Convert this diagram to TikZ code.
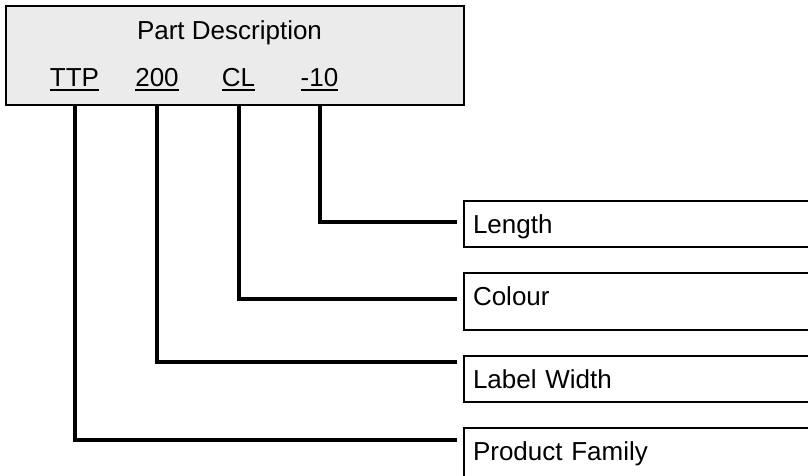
\documentclass[tikz,border=0pt]{standalone}
\usepackage{fontspec}
\setmainfont{Liberation Sans}
\usetikzlibrary{positioning}
\definecolor{panelgray}{HTML}{EBEBEB}

\begin{document}
\begin{tikzpicture}[
    x=1pt, y=-1pt,
    font=\fontsize{26pt}{31pt}\selectfont,
    descbox/.style={draw, line width=2pt, fill=panelgray, anchor=north west, minimum width=458pt, minimum height=99pt, inner sep=0pt},
    code/.style={inner sep=0pt, anchor=base},
    field/.style={draw, line width=2pt, anchor=north west, text width=342pt, align=left, inner xsep=9pt, inner ysep=0pt, text height=32pt},
    link/.style={line width=4pt},
    uline/.style={line width=2pt}
  ]
    \clip (0,0) rectangle (808,475);

    % Part description panel
    \node[descbox] (desc) at (5,5) {};
    \node[code] (title) at (229.5,39) {Part Description};
    \node[code] (ttp) at (74.5,86) {TTP};
    \node[code] (width) at (157,86) {200};
    \node[code] (colour) at (238.5,86) {CL};
    \node[code] (length) at (319.5,86) {-10};
    \foreach \n in {ttp, width, colour, length}
      \draw[uline] ([yshift=-3.5pt]\n.base west) -- ([yshift=-3.5pt]\n.base east);

    % Field boxes
    \node[field, text depth=14pt] (lengthbox) at (463,200) {Length};
    \node[field, text depth=25pt, below=24pt of lengthbox.south west, anchor=north west] (colourbox) {Colour};
    \node[field, text depth=14pt, below=24pt of colourbox.south west, anchor=north west] (widthbox) {Label Width};
    \node[field, text depth=20pt, below=24pt of widthbox.south west, anchor=north west] (familybox) {Product Family};

    % Connectors
    \draw[link] (length |- desc.south) |- ([shift={(-6pt,-22pt)}]lengthbox.north west);
    \draw[link] (colour |- desc.south) |- ([shift={(-6pt,-27pt)}]colourbox.north west);
    \draw[link] (width |- desc.south) |- ([shift={(-6pt,-7pt)}]widthbox.north west);
    \draw[link] (ttp |- desc.south) |- ([shift={(-6pt,-13pt)}]familybox.north west);
\end{tikzpicture}
\end{document}
